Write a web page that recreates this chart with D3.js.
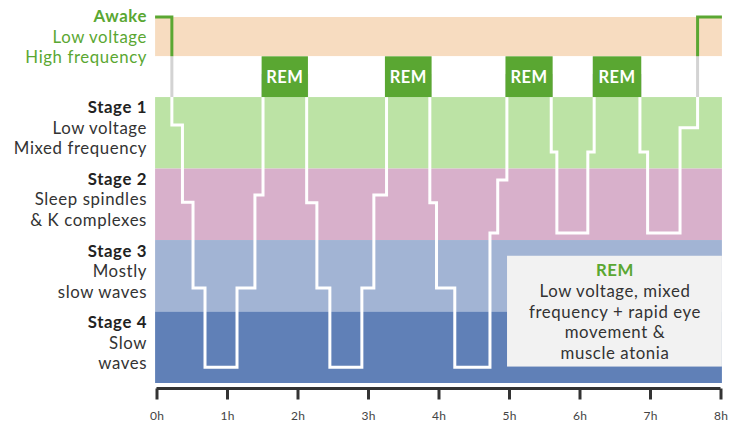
<!DOCTYPE html>
<html>
<head>
<meta charset="utf-8">
<script src="https://cdn.jsdelivr.net/npm/d3@7"></script>
<style>
  html, body { margin: 0; padding: 0; background: #ffffff; }
  svg { display: block; font-family: Lato, "Open Sans", sans-serif; }
</style>
</head>
<body>
<svg id="chart" width="737" height="423"></svg>
<script>
// ---------- data ----------
const bandNames   = ["Awake", "REM row", "Stage 1", "Stage 2", "Stage 3", "Stage 4"];
const bandTop     = [-0.12, 0.43, 1, 2, 3, 4];
const bandBottom  = [0.43, 1, 2, 3, 4, 5];
const bandColors  = ["#f7dcc0", "#ffffff", "#bce3a5", "#d8b0cb", "#a2b4d4", "#6080b7"];

const labelTitles = ["Awake", "Stage 1", "Stage 2", "Stage 3", "Stage 4"];
const labelLine1  = ["Low voltage", "Low voltage", "Sleep spindles", "Mostly", "Slow"];
const labelLine2  = ["High frequency", "Mixed frequency", "& K complexes", "slow waves", "waves"];
const labelCenter = [0.155, 1.43, 2.43, 3.44, 4.44];

const tickHours   = [0, 1, 2, 3, 4, 5, 6, 7, 8];
const tickLabels  = ["0h", "1h", "2h", "3h", "4h", "5h", "6h", "7h", "8h"];
const timeStart   = -0.02;
const timeEnd     = 8.02;

const remStart    = [1.491, 3.240, 4.950, 6.188];
const remEnd      = [2.148, 3.902, 5.619, 6.876];

const hypnoTimes  = [-0.02, 0.218, 0.368, 0.518, 0.688, 1.142, 1.396, 1.511, 2.130, 2.275, 2.459, 2.913, 3.083, 3.263, 3.877, 3.972, 4.231, 4.730, 4.840, 4.970, 5.599, 5.679, 6.118, 6.208, 6.857, 6.966, 7.426, 7.675, 8.02];
const hypnoDepth  = [-0.12, 1.39, 2.47, 3.67, 4.78, 3.67, 2.37, 0.7, 2.48, 3.67, 4.78, 3.67, 2.37, 0.7, 2.48, 3.67, 4.78, 2.90, 2.16, 0.7, 1.77, 2.90, 1.77, 0.7, 1.77, 2.90, 1.43, -0.12, -0.12];

const legendTitle = "REM";
const legendLines = ["Low voltage, mixed", "frequency + rapid eye", "movement &", "muscle atonia"];
const legendBox   = {t0: 4.972, t1: 8.02, d0: 3.22, d1: 4.77};

// ---------- scales ----------
const svg = d3.select("#chart");
const x = d3.scaleLinear().domain([0, 8]).range([156.5, 720.5]);
const y = d3.scaleLinear().domain([-0.12, 5]).range([17, 383]);

const green = "#5aa732";
const fs = 16.8;
const ls = "0.6px";

// bands
svg.append("g").selectAll("rect").data(bandNames).join("rect")
  .attr("x", x(timeStart))
  .attr("width", x(timeEnd) - x(timeStart))
  .attr("y", (d, i) => y(bandTop[i]))
  .attr("height", (d, i) => y(bandBottom[i]) - y(bandTop[i]))
  .attr("fill", (d, i) => bandColors[i]);

// clip paths
const defs = svg.append("defs");
function clip(id, d0, d1, extra) {
  defs.append("clipPath").attr("id", id).append("rect")
    .attr("x", 0).attr("width", 737)
    .attr("y", y(d0) - extra).attr("height", y(d1) - y(d0) + extra);
}
clip("clipAwake", -0.12, 0.43, 5);
clip("clipRem", 0.43, 1, 0);
clip("clipStage", 1, 5, 0);

const pts = hypnoTimes.map((t, i) => [t, hypnoDepth[i]]);
const line = d3.line().x(d => x(d[0])).y(d => y(d[1])).curve(d3.curveStepAfter);

const lineStyles = [["clipStage", "#ffffff"], ["clipRem", "#d3d3d3"], ["clipAwake", green]];
lineStyles.forEach(([id, col]) => {
  svg.append("path").datum(pts)
    .attr("d", line)
    .attr("fill", "none")
    .attr("stroke", col)
    .attr("stroke-width", 3)
    .attr("stroke-linejoin", "miter")
    .attr("clip-path", `url(#${id})`);
});

// REM boxes
const remG = svg.append("g").selectAll("g").data(remStart).join("g");
remG.append("rect")
  .attr("x", (d, i) => x(remStart[i]))
  .attr("width", (d, i) => x(remEnd[i]) - x(remStart[i]))
  .attr("y", y(0.43))
  .attr("height", y(1) - y(0.43))
  .attr("fill", green);
remG.append("text")
  .attr("x", (d, i) => (x(remStart[i]) + x(remEnd[i])) / 2)
  .attr("y", (y(0.43) + y(1)) / 2)
  .attr("dy", "0.36em")
  .attr("text-anchor", "middle")
  .attr("fill", "#ffffff")
  .attr("font-weight", 700)
  .attr("font-size", 16.5)
  .attr("letter-spacing", "0.4px")
  .text("REM");

// left labels (one text element per line)
const labG = svg.append("g");
labelTitles.forEach((title, i) => {
  const cy = y(labelCenter[i]);
  const lines = [title, labelLine1[i], labelLine2[i]];
  lines.forEach((s, k) => {
    labG.append("text")
      .attr("x", 147)
      .attr("y", cy + (k - 1) * 20.5)
      .attr("dy", "0.35em")
      .attr("text-anchor", "end")
      .attr("font-size", fs)
      .attr("letter-spacing", ls)
      .attr("font-weight", k === 0 ? 700 : 400)
      .attr("fill", i === 0 ? green : (k === 0 ? "#222222" : "#333333"))
      .text(s);
  });
});

// legend box
svg.append("rect")
  .attr("x", x(legendBox.t0))
  .attr("width", x(legendBox.t1) - x(legendBox.t0))
  .attr("y", y(legendBox.d0))
  .attr("height", y(legendBox.d1) - y(legendBox.d0))
  .attr("fill", "#f2f2f2");
const lcx = 615;
svg.append("text")
  .attr("x", lcx).attr("y", 270.5).attr("dy", "0.35em")
  .attr("text-anchor", "middle").attr("font-size", fs).attr("font-weight", 700)
  .attr("letter-spacing", ls)
  .attr("fill", green).text(legendTitle);
svg.append("g").selectAll("text").data(legendLines).join("text")
  .attr("x", lcx)
  .attr("y", (d, i) => 291 + i * 20.7)
  .attr("dy", "0.35em")
  .attr("text-anchor", "middle")
  .attr("font-size", fs)
  .attr("letter-spacing", ls)
  .attr("fill", "#333333")
  .text(d => d);

// axis
const axis = d3.axisBottom(x).tickValues(tickHours).tickFormat((d, i) => tickLabels[i]).tickSize(11).tickPadding(12);
const ag = svg.append("g").attr("transform", "translate(0,388.5)").call(axis);
ag.select(".domain").attr("stroke", "#333333").attr("stroke-width", 3).attr("d", `M${x(0)},0H${x(8)}`);
ag.selectAll(".tick line").attr("stroke", "#333333").attr("stroke-width", 3);
ag.selectAll(".tick text").attr("font-size", 12).attr("fill", "#444444").attr("font-family", "Lato, sans-serif").attr("letter-spacing", "0.3px");
</script>
</body>
</html>
